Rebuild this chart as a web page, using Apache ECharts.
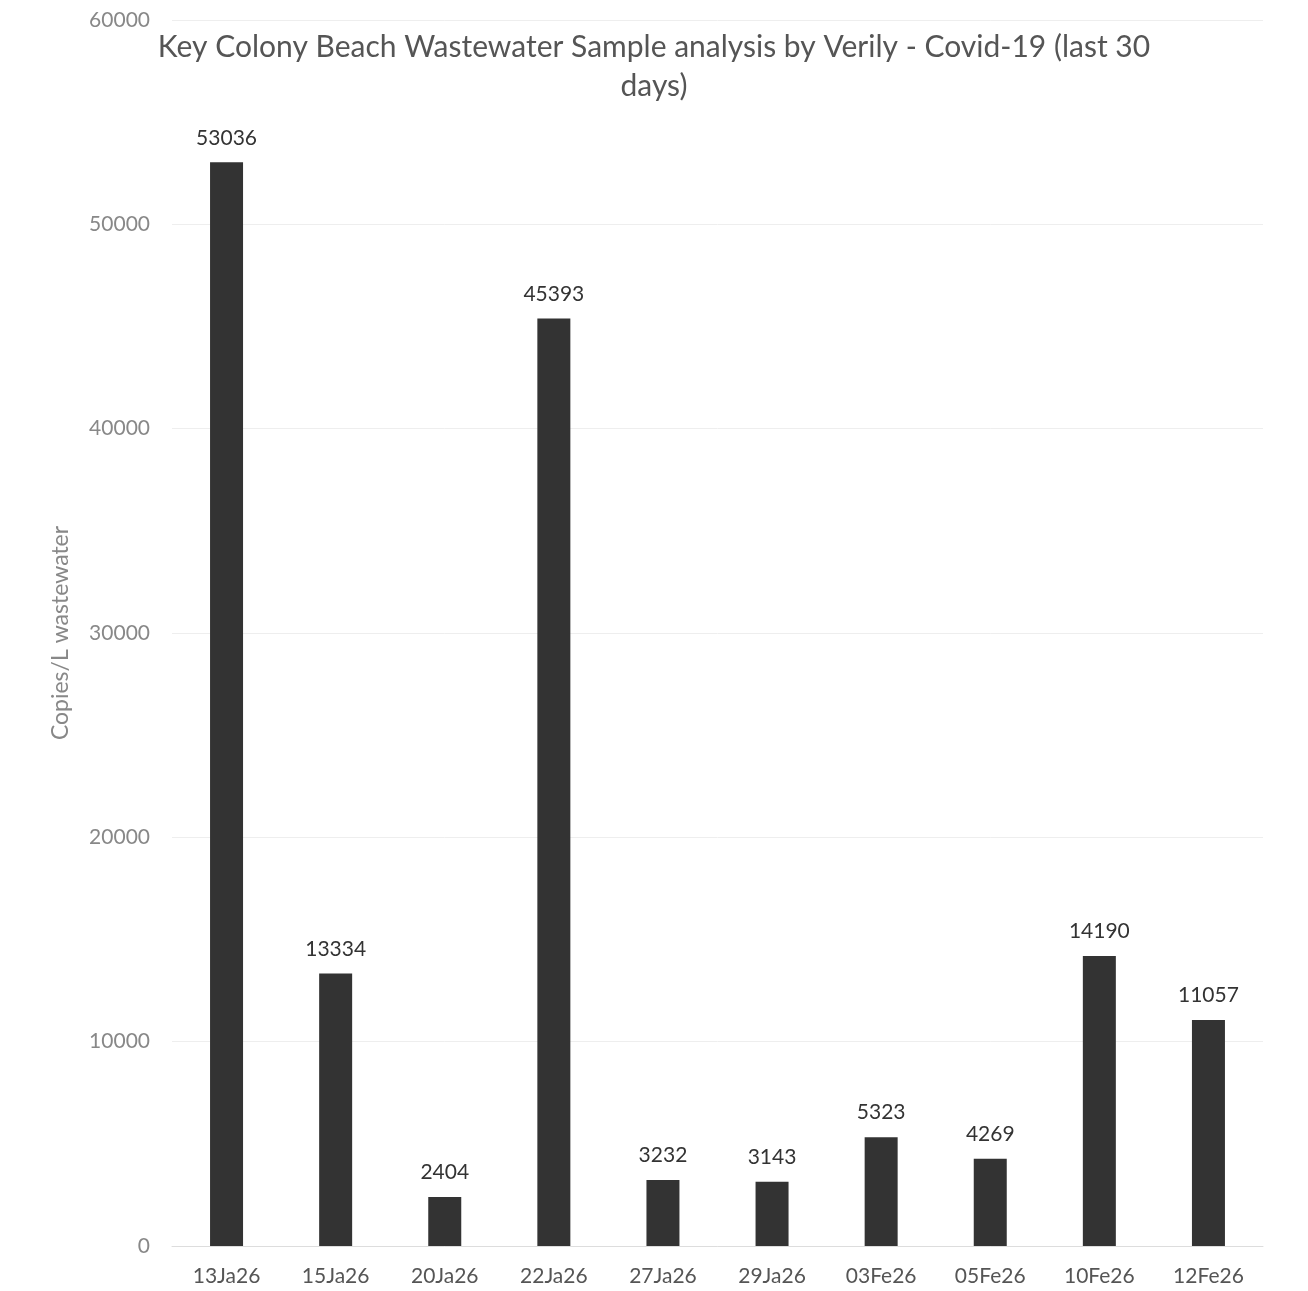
<!DOCTYPE html>
<html><head><meta charset="utf-8">
<script src="https://cdn.jsdelivr.net/npm/echarts@6/dist/echarts.min.js"></script>
<style>html,body{margin:0;padding:0;background:#fff}#c{width:1308px;height:1291px}</style>
</head><body><div id="c"></div>
<script>
const categories = ['13Ja26','15Ja26','20Ja26','22Ja26','27Ja26','29Ja26','03Fe26','05Fe26','10Fe26','12Fe26'];
const values = [53036,13334,2404,45393,3232,3143,5323,4269,14190,11057];
const yTicks = {min:0, max:60000, interval:10000};
const titleText = 'Key Colony Beach Wastewater Sample analysis by Verily - Covid-19 (last 30\ndays)';
const yName = 'Copies/L wastewater';
const FONT = 'Lato, "Open Sans", sans-serif';
const chart = echarts.init(document.getElementById('c'));
chart.setOption({
  animation:false,
  backgroundColor:'#fff',
  textStyle:{fontFamily:FONT},
  title:{text:titleText,left:'center',top:23,
    textStyle:{fontFamily:FONT,fontSize:30,fontWeight:'normal',color:'#555',lineHeight:39}},
  grid:{left:172,right:45,top:20,bottom:45},
  xAxis:{type:'category',data:categories,
    axisLine:{lineStyle:{color:'#ddd',width:1}},axisTick:{show:false},
    axisLabel:{color:'#555',fontSize:21,margin:20,fontFamily:FONT}},
  yAxis:{type:'value',min:yTicks.min,max:yTicks.max,interval:yTicks.interval,
    name:yName,nameLocation:'middle',nameGap:100,
    nameTextStyle:{color:'#888',fontSize:23,fontFamily:FONT},
    axisLine:{show:false},axisTick:{show:false},
    axisLabel:{color:'#888',fontSize:21,margin:22,fontFamily:FONT,formatter:v=>String(v)},
    splitLine:{lineStyle:{color:'#eee',width:1}}},
  series:[{type:'bar',data:values,barWidth:33,
    itemStyle:{color:'#333'},
    label:{show:true,position:'top',distance:14,color:'#333',fontSize:21,fontFamily:FONT}}]
});
</script></body></html>
